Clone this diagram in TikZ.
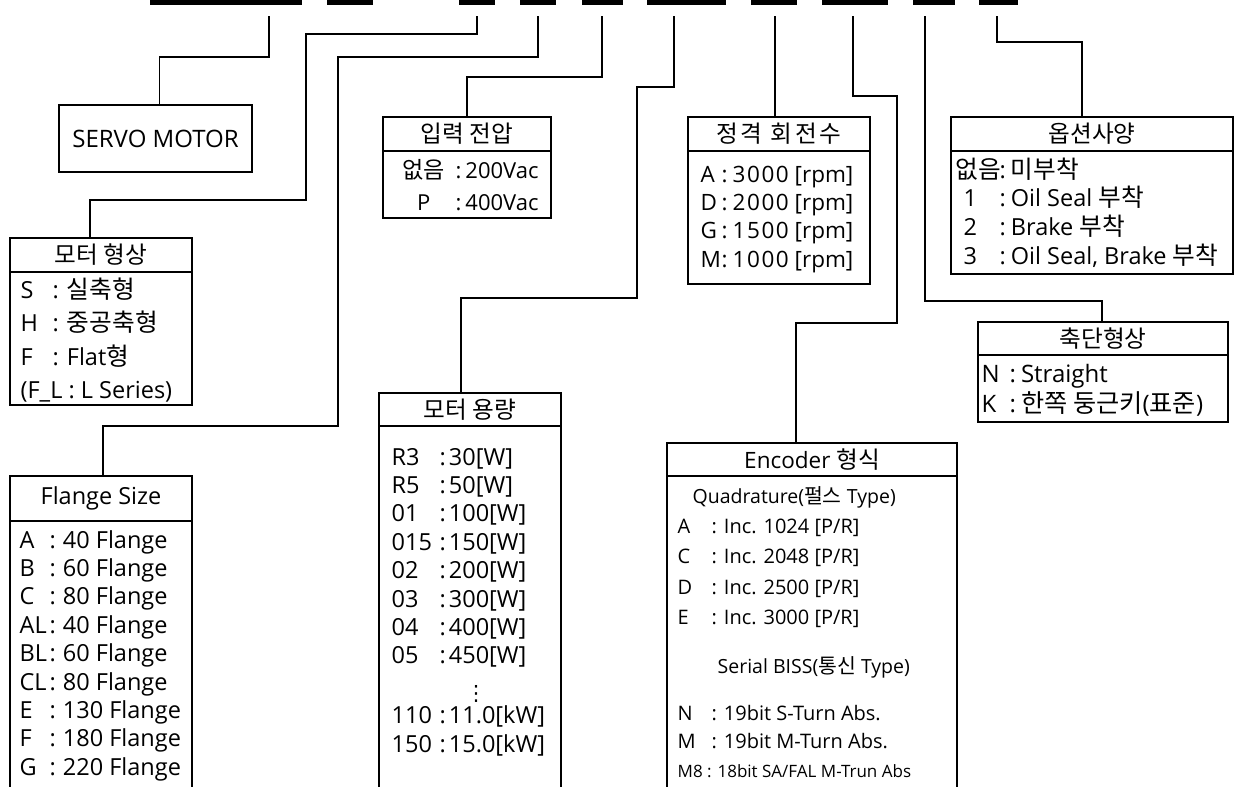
\documentclass[tikz,border=0pt]{standalone}
\usepackage{fontspec}
\usepackage{array}
\setmainfont{Open Sans}
\newfontfamily\krfont[Scale=1.05]{Noto Sans CJK KR}
\newfontfamily\krwide[Scale=1.05,LetterSpace=12]{Noto Sans CJK KR}
\newfontfamily\numwide[LetterSpace=7]{Open Sans}
\newfontfamily\symfont{DejaVu Sans}
\newcommand\kr[1]{{\krfont #1}}
\newcommand\nw[1]{{\numwide #1}}
\usetikzlibrary{positioning}

\begin{document}
\begin{tikzpicture}[x=1pt,y=-1pt,line width=1.3pt,
    hd/.style={draw, inner sep=0pt, outer sep=0pt, font=\fontsize{22.5}{26}\selectfont},
    bx/.style={draw, inner sep=0pt, outer sep=0pt},
    lst/.style={anchor=base west, inner sep=0pt, font=\fontsize{23.5}{28.4}\selectfont}]
    \useasboundingbox (0,0) rectangle (1237,787);
    % code bars on top
    \foreach \a/\b in {150/302,327/373,459/495,520/556,582/623,647/726,751/797,822/888,913/955,979/1018}
        \fill (\a,0) rectangle (\b,4.5);
    \foreach \n/\x in {1/269,2/477,3/538,4/602,5/674,6/775,7/853,8/925,9/997}
        \coordinate (t\n) at (\x,16);

    % boxes
    \node[bx, minimum width=193pt, minimum height=67pt, font=\fontsize{24}{28}\selectfont] (servo) at (155.5,138.5) {SERVO MOTOR};

    \node[hd, minimum width=182pt, minimum height=34pt] (shapeH) at (101,255) {\kr{모터 형상}};
    \node[bx, minimum width=182pt, minimum height=133pt, below=0pt of shapeH] (shapeB) {};
    \node[lst, font=\fontsize{23.5}{33.5}\selectfont] (shapeT) at (20,298) {\begin{tabular}[t]{@{}p{32pt}@{:\hspace{8pt}}l@{}}
        S & \kr{실축형}\\ H & \kr{중공축형}\\ F & Flat\kr{형}\\ \multicolumn{2}{@{}l@{}}{(F\_L : L Series)}\end{tabular}};

    \node[hd, minimum width=182pt, minimum height=45pt, font=\fontsize{23.5}{26}\selectfont] (flangeH) at (101,498.5) {Flange Size};
    \node[bx, minimum width=182pt, minimum height=269pt, below=0pt of flangeH] (flangeB) {};
    \node[lst] (flangeT) at (19,548) {\begin{tabular}[t]{@{}p{30pt}@{:\hspace{7pt}}l@{}}
        A & 40 Flange\\ B & 60 Flange\\ C & 80 Flange\\ AL & 40 Flange\\ BL & 60 Flange\\ CL & 80 Flange\\
        E & 130 Flange\\ F & 180 Flange\\ G & 220 Flange\end{tabular}};

    \node[hd, minimum width=168pt, minimum height=34pt] (voltH) at (467,134) {\kr{입력 전압}};
    \node[bx, minimum width=168pt, minimum height=67pt, below=0pt of voltH] (voltB) {};
    \node[lst, font=\fontsize{22}{32}\selectfont] (voltT) at (397,178) {\begin{tabular}[t]{@{}>{\centering\arraybackslash}p{52pt}@{\hspace{6pt}:\hspace{4pt}}l@{}}
        \kr{없음} & 200Vac\\ P & 400Vac\end{tabular}};

    \node[hd, minimum width=182pt, minimum height=33pt] (capH) at (470,409.5) {\kr{모터 용량}};
    \node[bx, minimum width=182pt, minimum height=364pt, below=0pt of capH] (capB) {};
    \node[lst] (capT) at (391,465) {\begin{tabular}[t]{@{}p{48pt}@{:\hspace{3pt}}l@{}}
        R3 & 30[W]\\ R5 & 50[W]\\ 01 & 100[W]\\ 015 & 150[W]\\ 02 & 200[W]\\ 03 & 300[W]\\ 04 & 400[W]\\ 05 & 450[W]\\[8pt]
        \multicolumn{2}{@{}l@{}}{\hspace{74pt}{\symfont\fontsize{21}{24}\selectfont ⋮}}\\[-5pt]
        110 & 11.0[kW]\\ 150 & 15.0[kW]\end{tabular}};

    \node[hd, minimum width=182pt, minimum height=34pt] (rpmH) at (779,134) {{\krwide 정격 회전수}};
    \node[bx, minimum width=182pt, minimum height=133pt, below=0pt of rpmH] (rpmB) {};
    \node[lst, font=\fontsize{22.5}{28.4}\selectfont] (rpmT) at (700,182) {\begin{tabular}[t]{@{}p{20pt}@{\hspace{1pt}:\hspace{5pt}}l@{}}
        A & \nw{3000} [rpm]\\ D & \nw{2000} [rpm]\\ G & \nw{1500} [rpm]\\ M & \nw{1000} [rpm]\end{tabular}};

    \node[hd, minimum width=290pt, minimum height=33pt] (encH) at (812,459.5) {Encoder \kr{형식}};
    \node[bx, minimum width=290pt, minimum height=314pt, below=0pt of encH] (encB) {};
    \node[lst, font=\fontsize{19.5}{24}\selectfont] (encQ) at (692,503) {Quadrature(\kr{펄스} Type)};
    \node[lst, font=\fontsize{20}{30.5}\selectfont] (encInc) at (677,533) {\begin{tabular}[t]{@{}p{34pt}@{:\hspace{7pt}}l@{}}
        A & Inc. 1024 [P/R]\\ C & Inc. 2048 [P/R]\\ D & Inc. 2500 [P/R]\\ E & Inc. 3000 [P/R]\end{tabular}};
    \node[lst, font=\fontsize{19.5}{24}\selectfont] (encS) at (717,673) {Serial BISS(\kr{통신} Type)};
    \node[lst, font=\fontsize{20}{28.5}\selectfont] (encAbs) at (677,720) {\begin{tabular}[t]{@{}p{34pt}@{:\hspace{7pt}}l@{}}
        N & 19bit S-Turn Abs.\\ M & 19bit M-Turn Abs.\end{tabular}};
    \node[lst, font=\fontsize{17}{20}\selectfont] (encM8) at (677,777) {M8 : 18bit SA/FAL M-Trun Abs};

    \node[hd, minimum width=282pt, minimum height=34pt] (optH) at (1092,134) {\kr{옵션사양}};
    \node[bx, minimum width=282pt, minimum height=123pt, below=0pt of optH] (optB) {};
    \node[lst, font=\fontsize{23.5}{27.5}\selectfont] (optT) at (955,178) {\begin{tabular}[t]{@{}p{44pt}@{:\hspace{5pt}}l@{}}
        \kr{없음} & \kr{미부착}\\ \hspace{8pt}1 & Oil Seal \kr{부착}\\ \hspace{8pt}2 & Brake \kr{부착}\\
        \hspace{8pt}3 & Oil Seal, Brake \kr{부착}\end{tabular}};

    \node[hd, minimum width=250pt, minimum height=33pt] (shaftH) at (1103,338.5) {\kr{축단형상}};
    \node[bx, minimum width=250pt, minimum height=67pt, below=0pt of shaftH] (shaftB) {};
    \node[lst, font=\fontsize{24}{30.5}\selectfont] (shaftT) at (981,382) {\begin{tabular}[t]{@{}p{28pt}@{:\hspace{5pt}}l@{}}
        N & Straight\\ K & \kr{한쪽 둥근키}(\kr{표준})\end{tabular}};

    % leader lines
    \draw (t1) -- (269,57) -| ([xshift=4pt]servo.north);
    \draw (t2) -- (477,34) -| (306,200) -| ([xshift=-11pt]shapeH.north);
    \draw (t3) -- (538,57) -| (338,426) -| ([xshift=2pt]flangeH.north);
    \draw (t4) -- (602,77) -| (voltH.north);
    \draw (t5) -- (674,87) -| (637,298) -| ([xshift=-9pt]capH.north);
    \draw (t6) -- ([xshift=-4pt]rpmH.north);
    \draw (t7) -- (853,96) -| (897,323) -| ([xshift=-16pt]encH.north);
    \draw (t8) -- (925,301) -| ([xshift=-1pt]shaftH.north);
    \draw (t9) -- (997,42) -| ([xshift=-10pt]optH.north);
\end{tikzpicture}
\end{document}
